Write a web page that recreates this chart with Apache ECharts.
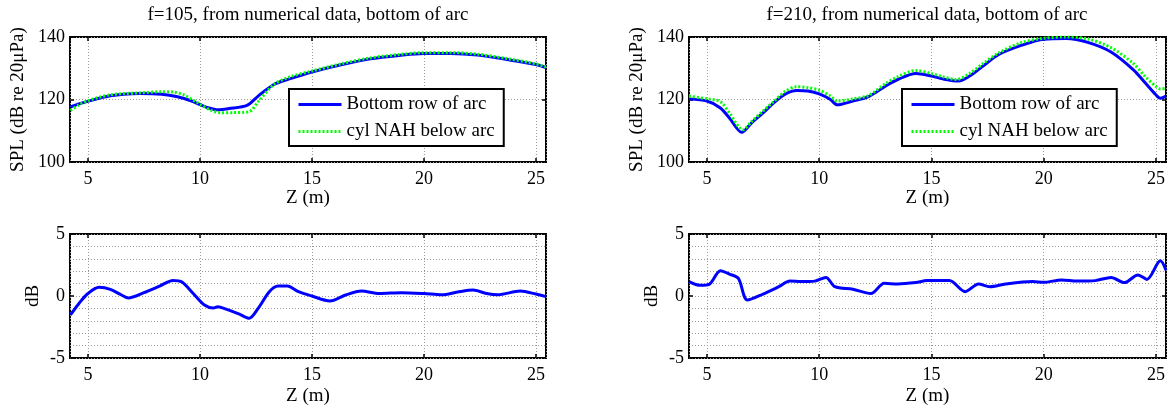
<!DOCTYPE html>
<html>
<head>
<meta charset="utf-8">
<script src="https://cdn.jsdelivr.net/npm/echarts@6/dist/echarts.min.js"></script>
<style>
html,body{margin:0;padding:0;background:#fff;}
#chart{width:1169px;height:409px;}
</style>
</head>
<body>
<div id="chart"></div>
<script>
// ---------- data ----------
const TITLES = ['f=105, from numerical data, bottom of arc', 'f=210, from numerical data, bottom of arc'];
const SERIES_NAMES = ['Bottom row of arc', 'cyl NAH below arc'];
const X_NAME = 'Z (m)';
const Y_NAME_TOP = 'SPL (dB re 20\u03bcPa)';
const Y_NAME_BOTTOM = 'dB';

// f=105 : SPL (top-left)
const f105_blue_z   = [4.22, 4.6, 5, 5.5, 6, 6.6, 7.3, 8.3, 9, 9.6, 10, 10.4, 10.8, 11.3, 12.1, 12.6, 13.3, 14, 15, 16.3, 17.6, 18.9, 20, 21.2, 22.4, 23.7, 25, 25.45];
const f105_blue_spl = [117.6, 118.6, 119.4, 120.4, 121.2, 121.7, 121.9, 121.7, 120.9, 119.6, 118.4, 117.3, 116.7, 117.1, 118.1, 121.1, 124.8, 126.6, 128.8, 131.1, 133.0, 134.1, 134.7, 134.7, 134.2, 132.8, 131.2, 130.2];
const f105_green_z   = [4.22, 4.6, 5, 5.5, 6, 6.6, 7.3, 8.3, 8.8, 9.3, 10, 10.5, 10.9, 11.5, 12.2, 12.6, 13.3, 14, 15, 16.3, 17.6, 18.9, 20, 21.2, 22.4, 23.7, 25, 25.45];
const f105_green_spl = [116.5, 118.3, 119.6, 120.7, 121.5, 121.9, 122.1, 122.5, 122.4, 121.4, 118.5, 116.5, 115.8, 115.8, 116.1, 119.3, 124.8, 127.2, 129.1, 131.4, 133.3, 134.4, 135.0, 135.0, 134.5, 133.1, 131.4, 130.4];

// f=210 : SPL (top-right)
const f210_blue_z   = [4.2, 5, 5.6, 6, 6.55, 7, 7.5, 8, 8.5, 9, 9.5, 10, 10.5, 10.8, 11.5, 12.2, 13, 13.5, 14.3, 15, 15.5, 16.2, 16.7, 17.3, 18, 19, 20, 21, 22, 23, 24, 24.5, 25, 25.2, 25.45];
const f210_blue_spl = [120.2, 119.5, 117.3, 114.1, 109.5, 112.6, 115.7, 119.1, 121.8, 122.9, 122.7, 121.8, 120.0, 118.3, 119.5, 120.9, 124.5, 126.4, 128.3, 127.5, 126.6, 125.9, 127.5, 130.7, 134.4, 137.3, 139.3, 139.5, 138.2, 135.2, 129.5, 125.5, 121.5, 120.4, 121.1];
const f210_green_z   = [4.2, 5, 5.6, 6, 6.6, 7, 7.5, 8, 8.5, 9, 9.5, 10, 10.5, 10.8, 11.5, 12.2, 13, 13.5, 14.3, 15, 15.5, 16.1, 16.7, 17.3, 18, 19, 20, 21, 22, 23, 24, 24.5, 25, 25.2, 25.45];
const f210_green_spl = [121.1, 120.2, 119.3, 115.7, 110.3, 113.0, 116.3, 119.5, 122.7, 124.1, 123.8, 123.0, 121.1, 119.5, 120.2, 121.3, 125.3, 127.3, 129.3, 128.3, 127.3, 126.4, 128.3, 131.5, 134.9, 138.2, 139.6, 140.0, 139.3, 136.6, 131.5, 127.5, 124.2, 123.4, 123.6];

// f=105 : difference in dB (bottom-left)
const f105_diff_z  = [4.22, 4.6, 5, 5.5, 6, 6.5, 6.8, 7.5, 8.2, 8.8, 9.2, 9.7, 10.2, 10.6, 10.8, 11.2, 11.8, 12.2, 12.6, 13.1, 13.5, 13.9, 14.4, 15, 15.8, 16.5, 17.2, 18, 19, 20, 20.8, 21.5, 22.2, 22.8, 23.3, 24.3, 25, 25.45];
const f105_diff_db = [-1.53, -0.6, 0.2, 0.7, 0.54, 0.08, -0.16, 0.27, 0.8, 1.26, 1.13, 0.2, -0.73, -0.97, -0.86, -1.08, -1.5, -1.8, -1.0, 0.35, 0.8, 0.8, 0.35, 0.0, -0.4, 0.08, 0.4, 0.2, 0.27, 0.2, 0.1, 0.32, 0.48, 0.2, 0.1, 0.4, 0.16, -0.05];

// f=210 : difference in dB (bottom-right)
const f210_diff_z  = [4.2, 4.7, 5.1, 5.6, 6.0, 6.4, 6.8, 7.5, 8.2, 8.7, 9.2, 9.8, 10.3, 10.7, 11.5, 12.3, 12.9, 13.5, 14.3, 14.8, 15.8, 16.5, 17.1, 17.6, 18.3, 19.5, 20, 20.8, 21.5, 22.3, 23, 23.6, 24.2, 24.6, 25.2, 25.45];
const f210_diff_db = [1.16, 0.86, 0.94, 2.04, 1.77, 1.42, -0.32, 0.16, 0.75, 1.2, 1.16, 1.2, 1.5, 0.75, 0.54, 0.2, 1.02, 0.97, 1.08, 1.24, 1.24, 0.35, 0.97, 0.75, 0.97, 1.16, 1.1, 1.3, 1.2, 1.24, 1.5, 1.08, 1.7, 1.34, 2.84, 2.08];

// axis ranges
const Z_MIN = 4.2, Z_MAX = 25.45;
const SPL_MIN = 100, SPL_MAX = 140, SPL_STEP = 20;
const DB_MIN = -5, DB_MAX = 5, DB_STEP = 5;

// ---------- build ----------
const FONT = '"Liberation Serif", "Times New Roman", serif';
const pairs = (xs, ys) => xs.map((x, i) => [x, ys[i]]);

const grids = [
  {left: 70,  top: 37,  width: 476, height: 125},
  {left: 689, top: 37,  width: 477, height: 125},
  {left: 70,  top: 234, width: 476, height: 124},
  {left: 689, top: 234, width: 477, height: 124}
].map(g => Object.assign(g, {show: true, borderColor: '#000', borderWidth: 2, backgroundColor: '#fff'}));

const gridLine = {show: true, lineStyle: {color: '#9a9a9a', width: 1, type: [1, 2]}};
const tickStyle = {show: true, inside: true, length: 4, lineStyle: {color: '#000', width: 1.5}};
const labelStyle = {color: '#000', fontSize: 18, fontFamily: FONT};
const nameStyle = {color: '#000', fontSize: 19, fontFamily: FONT};
const noLine = {show: false, onZero: false};

const xAxis = [], yAxis = [];
for (let g = 0; g < 4; g++) {
  xAxis.push({
    type: 'value', gridIndex: g, position: 'bottom', min: Z_MIN, max: Z_MAX, splitNumber: 4,
    name: X_NAME, nameLocation: 'middle', nameGap: g < 2 ? 25 : 29, nameTextStyle: nameStyle,
    axisLine: noLine, axisTick: tickStyle,
    axisLabel: Object.assign({margin: 8, showMinLabel: false, showMaxLabel: false}, labelStyle),
    splitLine: gridLine
  });
}
for (let g = 0; g < 4; g++) {
  const top = g < 2;
  yAxis.push({
    type: 'value', gridIndex: g, position: 'left',
    min: top ? SPL_MIN : DB_MIN, max: top ? SPL_MAX : DB_MAX, interval: top ? SPL_STEP : DB_STEP,
    name: top ? Y_NAME_TOP : Y_NAME_BOTTOM, nameLocation: 'middle', nameGap: top ? 42 : 27, nameTextStyle: nameStyle,
    axisLine: noLine, axisTick: tickStyle,
    axisLabel: Object.assign({margin: 5}, labelStyle),
    splitLine: gridLine,
    minorTick: {show: false, splitNumber: 5},
    minorSplitLine: top ? {show: false} : {show: true, lineStyle: {color: '#9a9a9a', width: 1, type: [1, 2]}}
  });
}
// mirrored ticks on top and right edges (MATLAB box style)
for (let g = 0; g < 4; g++) {
  xAxis.push({
    type: 'value', gridIndex: g, position: 'top', min: Z_MIN, max: Z_MAX, splitNumber: 4,
    axisLine: noLine, axisTick: tickStyle, axisLabel: {show: false}, splitLine: {show: false}
  });
  const top = g < 2;
  yAxis.push({
    type: 'value', gridIndex: g, position: 'right',
    min: top ? SPL_MIN : DB_MIN, max: top ? SPL_MAX : DB_MAX, interval: top ? SPL_STEP : DB_STEP,
    axisLine: noLine, axisTick: tickStyle, axisLabel: {show: false}, splitLine: {show: false}
  });
}

const blueLine = {color: '#0000ff', width: 3};
const greenLine = {color: '#00ff00', width: 3, type: [2, 2]};
function lineSeries(name, gi, data, ls, z) {
  return {
    name: name, type: 'line', xAxisIndex: gi, yAxisIndex: gi, data: data,
    symbol: 'none', showSymbol: false, smooth: 0.3, z: z,
    lineStyle: ls, itemStyle: {color: ls.color}, emphasis: {disabled: true}, animation: false
  };
}

const series = [
  lineSeries(SERIES_NAMES[0], 0, pairs(f105_blue_z, f105_blue_spl), blueLine, 3),
  lineSeries(SERIES_NAMES[1], 0, pairs(f105_green_z, f105_green_spl), greenLine, 4),
  lineSeries(SERIES_NAMES[0], 1, pairs(f210_blue_z, f210_blue_spl), blueLine, 3),
  lineSeries(SERIES_NAMES[1], 1, pairs(f210_green_z, f210_green_spl), greenLine, 4),
  lineSeries('diff105', 2, pairs(f105_diff_z, f105_diff_db), blueLine, 3),
  lineSeries('diff210', 3, pairs(f210_diff_z, f210_diff_db), blueLine, 3)
];

function legendAt(left) {
  return {
    show: true, orient: 'vertical', left: left, top: 89, data: SERIES_NAMES, selectedMode: false,
    itemWidth: 43, itemHeight: 14, itemGap: 8,
    itemStyle: {opacity: 0},
    lineStyle: {width: 3},
    padding: [6, 9, 5, 8], borderColor: '#000', borderWidth: 2, backgroundColor: '#fff', borderRadius: 0,
    textStyle: {color: '#000', fontSize: 19, fontFamily: FONT, lineHeight: 19}
  };
}

const option = {
  animation: false,
  backgroundColor: '#fff',
  title: [
    {text: TITLES[0], left: 308, top: 6, textAlign: 'center', padding: 0,
     textStyle: {color: '#000', fontSize: 19, fontWeight: 'normal', fontFamily: FONT}},
    {text: TITLES[1], left: 927, top: 6, textAlign: 'center', padding: 0,
     textStyle: {color: '#000', fontSize: 19, fontWeight: 'normal', fontFamily: FONT}}
  ],
  legend: [legendAt(289), legendAt(902)],
  grid: grids,
  xAxis: xAxis,
  yAxis: yAxis,
  series: series
};

const chart = echarts.init(document.getElementById('chart'), null, {renderer: 'canvas'});
chart.setOption(option);
</script>
</body>
</html>
